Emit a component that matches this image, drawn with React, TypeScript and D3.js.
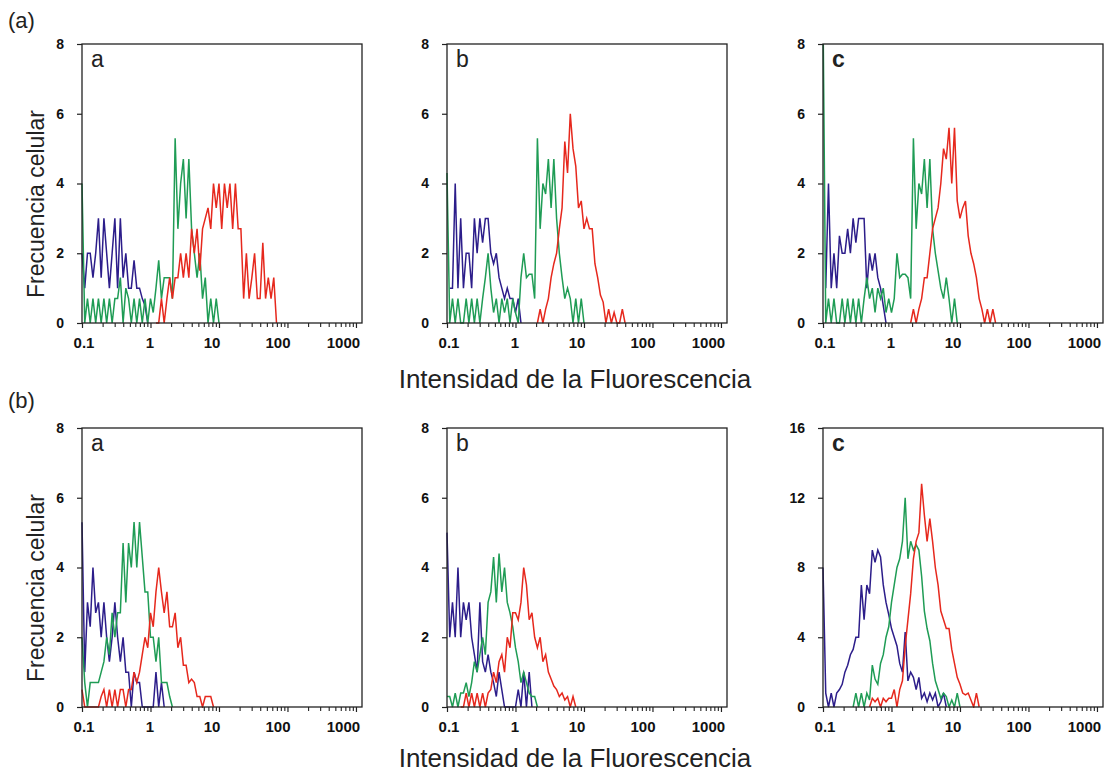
import React, { useEffect, useRef } from 'react';
import * as d3 from 'd3';

// ---------- axis definitions ----------
const CHANNEL_STEP = 0.04; // decades per histogram channel
const X_MIN = 0.1;
const X_MAX = 1225;
const X_TICKS = [0.1, 1, 10, 100, 1000];
const X_TICK_LABELS = ['0.1', '1', '10', '100', '1000'];
const X_LABEL_DX = [1.5, -1, -7.5, -10, -13];
const Y_TICKS_8 = [0, 2, 4, 6, 8];
const Y_TICKS_16 = [0, 4, 8, 12, 16];
const PANEL_LETTERS = ['a', 'b', 'c'];
const ROW_LABELS = ['(a)', '(b)'];
const Y_TITLE = 'Frecuencia celular';
const X_TITLE = 'Intensidad de la Fluorescencia';

// ---------- data: histogram counts per channel (channel k -> 0.1*10^(k*0.04)) ----------
// Row (a), panel a
const A_A_BLUE_START = 0;
const A_A_BLUE = [2, 1, 2, 2, 1.3, 2, 3, 1.3, 3, 2, 1, 2, 3, 1, 3, 1.3, 2, 1, 1, 1.8, 1, 1, 0.7, 0.5, 0];
const A_A_GREEN_START = 0;
const A_A_GREEN = [4, 0, 0.7, 0, 0.7, 0, 0.7, 0, 0.7, 0, 0.7, 0, 0.7, 0.7, 1.3, 0, 1, 0.7, 0, 0.7, 0, 0.7, 0, 0.7, 0, 0.7, 0.3, 1, 1.8, 0.7, 1.3, 1.3, 1.3, 0.7, 5.3, 2.7, 4, 4.7, 3, 4.7, 2.7, 2, 1.3, 2, 0.7, 1.3, 0, 0.7, 0, 0.7, 0];
const A_A_RED_START = 27;
const A_A_RED = [0, 0, 0.7, 0, 0.7, 1.3, 0.7, 1.3, 1.3, 2, 1.3, 2, 1.3, 2.7, 2, 2.7, 1.5, 2.7, 3, 3.3, 2.7, 4, 3.3, 4, 2.7, 4, 3.3, 4, 2.7, 4, 2.7, 2.7, 0.7, 2, 0.7, 1.3, 2, 0.7, 0.7, 2.3, 0.7, 1.3, 0.7, 1.3, 0];

// Row (a), panel b
const A_B_BLUE_START = 1;
const A_B_BLUE = [1, 1, 4, 1, 3, 1, 2, 2, 1, 3, 2, 3, 2.3, 3, 3, 2, 1.7, 2, 1.3, 1, 0.7, 1, 0.7, 0.7, 0.3, 0.7, 0];
const A_B_GREEN_START = 0;
const A_B_GREEN = [4.3, 0, 0.7, 0, 0.7, 0, 0, 0.7, 0, 0.7, 0, 0.7, 0, 0.7, 1.3, 2, 1, 0.3, 0.7, 0, 0.7, 0.3, 0.7, 0, 0.7, 0.3, 0, 1.3, 2, 1.3, 1.4, 1.4, 0.7, 5.3, 2.7, 4, 3.7, 4.7, 3.3, 4.7, 3, 2, 1.3, 0.7, 1, 0.7, 0, 0.7, 0, 0.7, 0];
const A_B_RED_START = 33;
const A_B_RED = [0, 0.4, 0, 0.4, 0.7, 1.3, 1.7, 2, 2.7, 3.3, 5.2, 4.3, 6, 5, 4.5, 3.3, 3.5, 2.7, 3, 2.7, 2.7, 1.7, 1.3, 0.8, 0.6, 0, 0.4, 0, 0.3, 0, 0, 0.4, 0];

// Row (a), panel c
const A_C_BLUE_START = 1;
const A_C_BLUE = [1, 4, 1, 2, 1, 2.5, 2, 2, 2.7, 2, 3, 2.3, 3, 3, 3, 1, 2, 1.5, 2, 1.3, 1, 0.5, 0];
const A_C_GREEN_START = 0;
const A_C_GREEN = [9, 0, 0.7, 0, 0.7, 0, 0, 0.7, 0, 0.7, 0, 0.7, 0, 0.7, 0, 0.7, 1.3, 0.7, 1, 0.3, 1, 0.7, 1, 0.3, 0.7, 0.3, 0.7, 2, 1.3, 1.4, 1.4, 1.3, 0.7, 5.3, 2.7, 4, 3.7, 4.7, 3.3, 4.7, 2.7, 2, 1.5, 1, 0.7, 1.3, 0.7, 0, 0.7, 0];
const A_C_RED_START = 32;
const A_C_RED = [0, 0.4, 0, 0.4, 0.7, 1.3, 1.3, 2, 2.7, 3, 3.3, 4, 5, 4.7, 5.6, 4, 5.6, 3.5, 3, 3.3, 3.5, 2.5, 2, 1.7, 1.3, 0.7, 0.4, 0, 0.4, 0, 0.4, 0];

// Row (b), panel a
const B_A_BLUE_START = 0;
const B_A_BLUE = [5.3, 1, 3, 2.3, 4, 2.7, 3, 2, 3, 2, 1.3, 2, 3, 2, 1.3, 2, 1, 1, 0, 1, 0.7, 0.7, 0, 0, 0, 0, 0, 1, 0, 0.7, 0];
const B_A_GREEN_START = 0;
const B_A_GREEN = [2, 0.7, 0, 0.7, 0.7, 0.7, 0.7, 1, 1.3, 2, 1.5, 2.7, 2, 2.7, 2.7, 4.7, 3, 4.7, 4, 5.3, 4, 5.3, 4.3, 3.3, 3.3, 2, 2, 1.3, 2, 0.7, 0.7, 0.7, 0.3, 0];
const B_A_RED_START = 0;
const B_A_RED = [0.5, 0, 0, 0, 0, 0, 0, 0.3, 0.5, 0, 0.5, 0, 0.5, 0, 0.5, 0.5, 0, 0.5, 0.5, 1, 0.7, 1, 1.5, 2, 1.7, 2.7, 2.3, 3.3, 4, 3.3, 2.7, 3.3, 2.3, 2.3, 2.7, 1.7, 2, 1.2, 1.2, 0.7, 0.8, 0.7, 0.3, 0.3, 0, 0.3, 0.3, 0.3, 0];

// Row (b), panel b
const B_B_BLUE_START = 0;
const B_B_BLUE = [5, 2, 3, 2, 4, 2, 3, 2.5, 3, 2, 1.5, 1, 3, 1.3, 1, 1.5, 1, 0.7, 0.3, 1, 0.5, 0, 0, 0, 0, 0, 0.5, 0, 1, 0, 1, 0];
const B_B_GREEN_START = 0;
const B_B_GREEN = [0.3, 0.3, 0, 0.4, 0, 0.4, 0.4, 0.7, 0.3, 0.7, 1.3, 1, 1.5, 2, 1.5, 3, 3.3, 4.3, 3, 4.4, 3.3, 4, 3, 2.7, 2.3, 1.7, 1.3, 0.7, 1, 0.7, 0.4, 0.3, 0.3, 0];
const B_B_RED_START = 5;
const B_B_RED = [0, 0, 0.4, 0, 0.4, 0, 0.4, 0, 0.4, 0, 0.4, 0.5, 1, 0.7, 1.3, 1.5, 1, 2, 1.7, 2.7, 2.7, 2.5, 3, 4, 3.5, 2.5, 2.7, 2, 1.7, 2, 1.3, 1.5, 1, 0.8, 0.6, 0.5, 0.3, 0.4, 0.2, 0.3, 0, 0.3, 0];

// Row (b), panel c
const B_C_BLUE_START = 0;
const B_C_BLUE = [8, 0.8, 0, 0.8, 0, 0.8, 1, 1.3, 2, 2.4, 3, 3.3, 4, 4, 7, 5, 7, 6.5, 9, 8.3, 9, 8.6, 7, 6, 5.3, 4.5, 4, 3.5, 2.5, 2, 4.3, 1.5, 2, 1.7, 1, 1.7, 0.5, 0.8, 0.3, 0.8, 0.4, 0.8, 0, 0.3, 0.8, 0];
const B_C_GREEN_START = 11;
const B_C_GREEN = [0, 0.8, 0, 0.8, 0, 0.8, 0.4, 2.4, 1.6, 1.3, 2.5, 3, 4, 4.6, 6, 7, 8, 8.5, 9.5, 12, 8.5, 9.5, 9, 9.3, 9, 7.5, 5.5, 4.5, 3.8, 2.5, 1.5, 1, 0.5, 0.8, 0.6, 0, 0.4, 0, 0.8, 0];
const B_C_RED_START = 17;
const B_C_RED = [0, 0.5, 0.3, 0.5, 0, 0.5, 0.3, 0.5, 0.5, 1, 0, 1, 1.5, 3.5, 5, 6.5, 8.5, 9.5, 10, 12.8, 11, 9.5, 10.8, 9.5, 8, 7, 5.5, 5, 4.5, 4.5, 3.3, 2.5, 1.7, 1.3, 0.8, 0.7, 0.8, 0.4, 0, 0.8, 0];

// ---------- styling / layout ----------
const BLUE = '#2c1d8a';
const GREEN = '#1f9c55';
const RED = '#e6281d';
const FONT = '"Liberation Sans", Arial, Helvetica, sans-serif';
const COL_X = [82, 447, 823];
const ROW_Y = [44, 428];
const ROW_LABEL_Y = [28, 408];
const X_TITLE_Y = [388, 767];
const Y_TITLE_CY = [204, 588];
const PW = 280;
const PH = 279;

type Series = { start: number; values: number[]; color: string };
type Panel = { row: number; col: number; yMax: number; yTicks: number[]; series: Series[] };

const PANELS: Panel[] = [
  { row: 0, col: 0, yMax: 8, yTicks: Y_TICKS_8, series: [
    { start: A_A_BLUE_START, values: A_A_BLUE, color: BLUE },
    { start: A_A_GREEN_START, values: A_A_GREEN, color: GREEN },
    { start: A_A_RED_START, values: A_A_RED, color: RED }] },
  { row: 0, col: 1, yMax: 8, yTicks: Y_TICKS_8, series: [
    { start: A_B_BLUE_START, values: A_B_BLUE, color: BLUE },
    { start: A_B_GREEN_START, values: A_B_GREEN, color: GREEN },
    { start: A_B_RED_START, values: A_B_RED, color: RED }] },
  { row: 0, col: 2, yMax: 8, yTicks: Y_TICKS_8, series: [
    { start: A_C_BLUE_START, values: A_C_BLUE, color: BLUE },
    { start: A_C_GREEN_START, values: A_C_GREEN, color: GREEN },
    { start: A_C_RED_START, values: A_C_RED, color: RED }] },
  { row: 1, col: 0, yMax: 8, yTicks: Y_TICKS_8, series: [
    { start: B_A_BLUE_START, values: B_A_BLUE, color: BLUE },
    { start: B_A_GREEN_START, values: B_A_GREEN, color: GREEN },
    { start: B_A_RED_START, values: B_A_RED, color: RED }] },
  { row: 1, col: 1, yMax: 8, yTicks: Y_TICKS_8, series: [
    { start: B_B_BLUE_START, values: B_B_BLUE, color: BLUE },
    { start: B_B_GREEN_START, values: B_B_GREEN, color: GREEN },
    { start: B_B_RED_START, values: B_B_RED, color: RED }] },
  { row: 1, col: 2, yMax: 16, yTicks: Y_TICKS_16, series: [
    { start: B_C_BLUE_START, values: B_C_BLUE, color: BLUE },
    { start: B_C_GREEN_START, values: B_C_GREEN, color: GREEN },
    { start: B_C_RED_START, values: B_C_RED, color: RED }] },
];

export default function App() {
  const ref = useRef<SVGSVGElement>(null);

  useEffect(() => {
    const svg = d3.select(ref.current);
    svg.selectAll('*').remove();

    const x = d3.scaleLog().domain([X_MIN, X_MAX]).range([0, PW]);
    const minor: number[] = [];
    [0.1, 1, 10, 100].forEach((dec) => d3.range(2, 10).forEach((m) => minor.push(dec * m)));

    PANELS.forEach((p, idx) => {
      const g = svg.append('g').attr('transform', `translate(${COL_X[p.col]},${ROW_Y[p.row]})`);
      const y = d3.scaleLinear().domain([0, p.yMax]).range([PH, 0]);
      const clipId = `clip-${idx}`;
      g.append('clipPath').attr('id', clipId)
        .append('rect').attr('x', -1).attr('y', 0).attr('width', PW + 2).attr('height', PH + 1);

      const line = d3.line<[number, number]>().x((d) => x(d[0])).y((d) => y(d[1])).curve(d3.curveLinear);
      p.series.forEach((s) => {
        const pts: [number, number][] = s.values.map((v, k) => [X_MIN * Math.pow(10, (s.start + k) * CHANNEL_STEP), v]);
        g.append('path')
          .attr('d', line(pts) as string)
          .attr('fill', 'none')
          .attr('stroke', s.color)
          .attr('stroke-width', 1.5)
          .attr('stroke-linejoin', 'miter')
          .attr('clip-path', `url(#${clipId})`);
      });

      // frame
      g.append('rect').attr('width', PW).attr('height', PH)
        .attr('fill', 'none').attr('stroke', '#222').attr('stroke-width', 1.3);

      // y axis
      const yg = g.append('g').call(
        d3.axisLeft(y).tickValues(p.yTicks).tickSize(5).tickPadding(13).tickFormat(d3.format('d'))
      );
      yg.select('.domain').remove();
      yg.selectAll('line').attr('stroke', '#222').attr('stroke-width', 1.2);
      yg.selectAll('text').attr('font-family', FONT).attr('font-size', 14).attr('font-weight', 'bold').attr('fill', '#111');

      // x axis minor ticks
      const xmg = g.append('g').attr('transform', `translate(0,${PH})`).call(
        d3.axisBottom(x).tickValues(minor).tickSize(4).tickFormat(() => '')
      );
      xmg.select('.domain').remove();
      xmg.selectAll('line').attr('stroke', '#222').attr('stroke-width', 1.1);

      // x axis major ticks
      const xg = g.append('g').attr('transform', `translate(0,${PH})`).call(
        d3.axisBottom(x).tickValues(X_TICKS).tickSize(5).tickPadding(9).tickFormat((_d, i) => X_TICK_LABELS[i])
      );
      xg.select('.domain').remove();
      xg.selectAll('line').attr('stroke', '#222').attr('stroke-width', 1.2);
      xg.selectAll('text')
        .attr('font-family', FONT).attr('font-size', 15).attr('font-weight', 'bold').attr('fill', '#111')
        .attr('dx', (_d, i) => X_LABEL_DX[i]);

      // panel letter
      g.append('text').attr('x', 9).attr('y', 23)
        .attr('font-family', FONT).attr('font-size', 23)
        .attr('font-weight', p.col === 2 ? 'bold' : 'normal')
        .attr('fill', '#222').text(PANEL_LETTERS[p.col]);
    });

    // row labels & titles
    ROW_LABELS.forEach((lab, r) => {
      svg.append('text').attr('x', 8).attr('y', ROW_LABEL_Y[r])
        .attr('font-family', FONT).attr('font-size', 22).attr('fill', '#222').text(lab);
      svg.append('text')
        .attr('transform', `translate(44,${Y_TITLE_CY[r]}) rotate(-90)`)
        .attr('text-anchor', 'middle')
        .attr('font-family', FONT).attr('font-size', 23).attr('fill', '#222').text(Y_TITLE);
      svg.append('text')
        .attr('x', 575).attr('y', X_TITLE_Y[r])
        .attr('text-anchor', 'middle')
        .attr('font-family', FONT).attr('font-size', 26).attr('fill', '#222').text(X_TITLE);
    });
  }, []);

  return (
    <svg
      ref={ref}
      width={1107}
      height={773}
      style={{ position: 'absolute', left: 0, top: 0, background: '#fff', display: 'block' }}
    />
  );
}
